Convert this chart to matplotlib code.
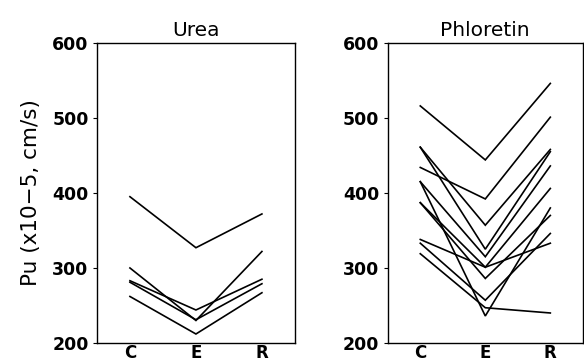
import matplotlib
matplotlib.use("Agg")
import matplotlib.pyplot as plt

conditions = ["C", "E", "R"]
y_ticks = [200, 300, 400, 500, 600]

urea_series = [
    [395, 327, 372],
    [300, 230, 322],
    [281, 231, 279],
    [283, 244, 285],
    [262, 212, 267],
]

phloretin_series = [
    [516, 444, 546],
    [434, 392, 501],
    [461, 357, 458],
    [461, 325, 455],
    [415, 315, 436],
    [415, 236, 380],
    [387, 301, 406],
    [387, 286, 370],
    [338, 301, 333],
    [333, 257, 346],
    [319, 247, 240],
]

titles = ["Urea", "Phloretin"]
ylabel = "Pu (x10\u22125, cm/s)"

fig = plt.figure(figsize=(5.84, 3.62), dpi=100)
ax1 = fig.add_axes([0.166, 0.0525, 0.339, 0.829])
ax2 = fig.add_axes([0.664, 0.0525, 0.334, 0.829])

xs = list(range(1, len(conditions) + 1))
for ax, data, title in [(ax1, urea_series, titles[0]), (ax2, phloretin_series, titles[1])]:
    for s in data:
        ax.plot(xs, s, color="black", lw=1.2, solid_joinstyle="miter")
    ax.set_xlim(0.5, 3.5)
    ax.set_ylim(200, 600)
    ax.set_yticks(y_ticks)
    ax.set_yticklabels([str(v) for v in y_ticks], fontweight="bold", fontsize=12.5)
    ax.set_xticks(xs)
    ax.set_xticklabels(conditions, fontweight="bold", fontsize=12)
    ax.tick_params(axis="x", length=0, pad=1)
    ax.tick_params(axis="y", length=3, width=0.8, pad=3)
    ax.set_title(title, fontsize=14.5, pad=5)
    for sp in ax.spines.values():
        sp.set_linewidth(1.0)

ax1.set_ylabel(ylabel, fontsize=15.5, labelpad=8)

fig.savefig("out.png", dpi=100)
